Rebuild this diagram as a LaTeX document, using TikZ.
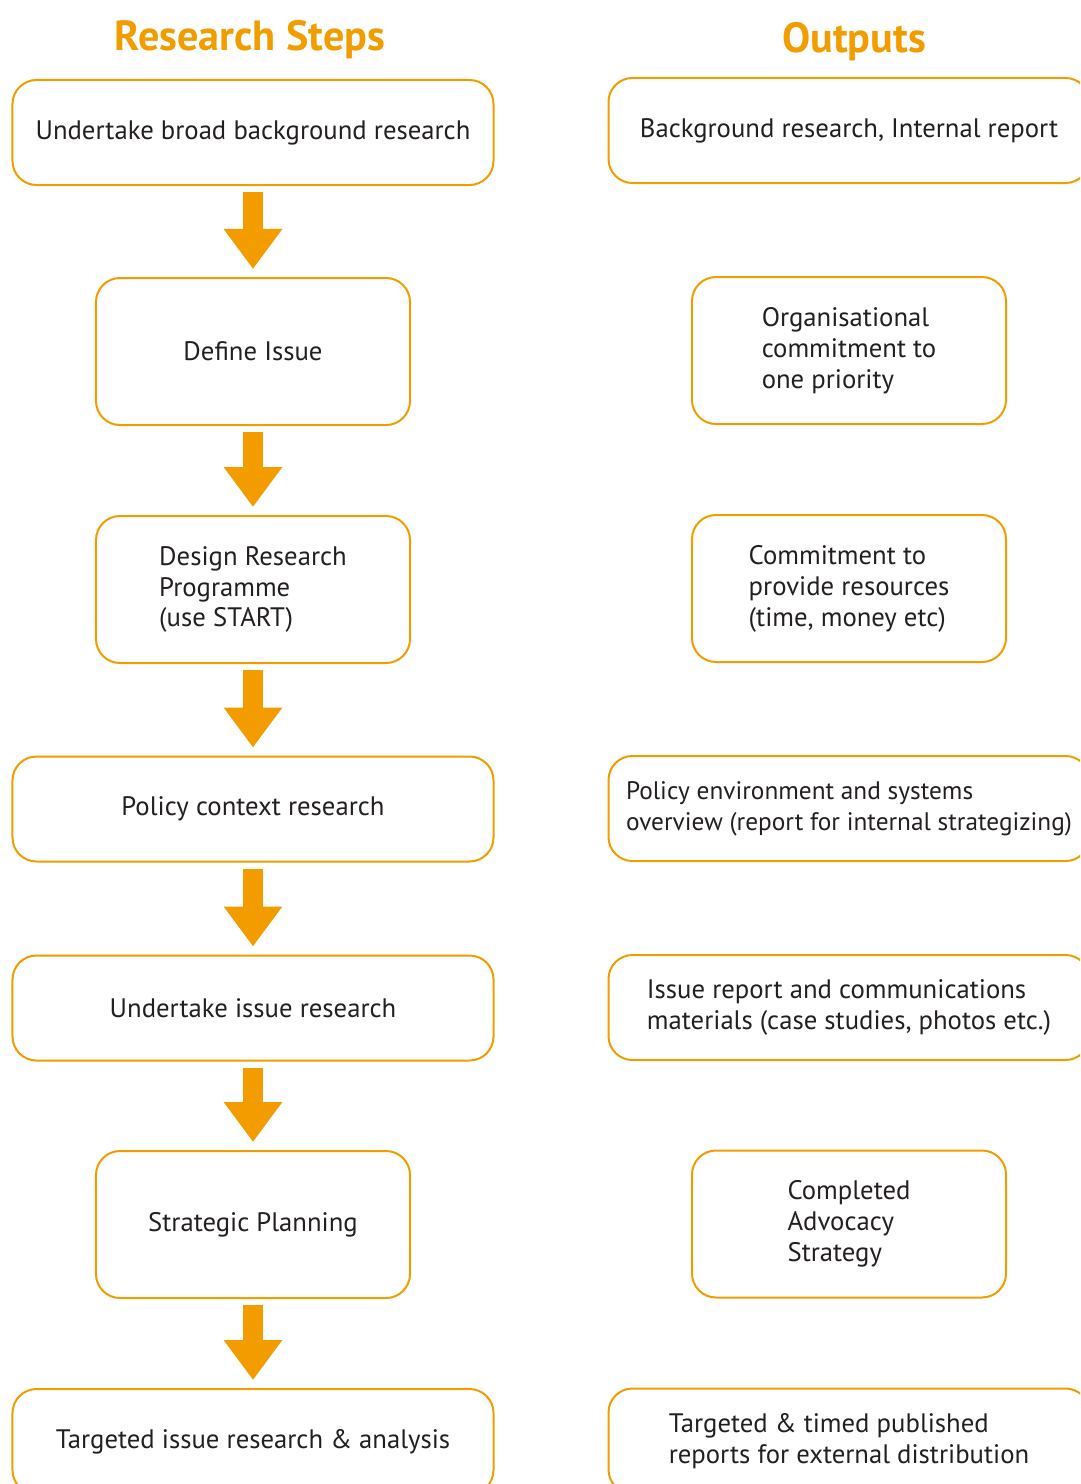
\documentclass[tikz,border=0pt]{standalone}
\usepackage{fontspec}
\setmainfont{PT Sans}
\usetikzlibrary{arrows.meta}
\definecolor{stepor}{HTML}{F39C00}
\definecolor{steptxt}{HTML}{231F20}
\begin{document}
\begin{tikzpicture}[x=0.25mm, y=-0.25mm,
		box/.style={draw=stepor, line width=0.5mm, rounded corners=6mm,
			text=steptxt, align=left, font=\fontsize{19}{22}\selectfont},
		wide/.style={box, minimum width=120.25mm, minimum height=26.25mm},
		narrow/.style={box, minimum width=78.5mm, minimum height=36.75mm},
		head/.style={text=stepor, font=\fontsize{30}{34}\selectfont\bfseries},
		down/.style={stepor, line width=5mm,
			-{Triangle[length=10mm, width=14mm]},
			shorten <=1.5mm, shorten >=2mm}
		]
	\useasboundingbox (0,0) rectangle (1080,1484);
	\clip (0,0) rectangle (1080,1484);
	% headings
	\node [head] (hsteps) at (250,40) {Research Steps};
	\node [head] (hout) at (854,42) {Outputs};
	% research steps
	\node [wide] (s1) at (253,132.5) {Undertake broad background research};
	\node [narrow] (s2) at (253,351.5) {Define Issue};
	\node [narrow] (s3) at (253,589.5) {Design Research\\Programme\\(use START)};
	\node [wide] (s4) at (253,809) {Policy context research};
	\node [wide] (s5) at (253,1008) {Undertake issue research};
	\node [narrow] (s6) at (253,1224.5) {Strategic Planning};
	\node [wide] (s7) at (253,1441.5) {Targeted issue research \& analysis};
	% outputs
	\node [wide] (o1) at (849,130.5) {Background research, Internal report};
	\node [narrow] (o2) at (849,350.5) {Organisational\\commitment to\\one priority};
	\node [narrow] (o3) at (849,588.5) {Commitment to\\provide resources\\(time, money etc)};
	\node [wide, font=\fontsize{18}{22}\selectfont] (o4) at (849,808.5) {Policy environment and systems\\overview (report for internal strategizing)};
	\node [wide] (o5) at (849,1007.5) {Issue report and communications\\materials (case studies, photos etc.)};
	\node [narrow] (o6) at (849,1224) {Completed\\Advocacy\\Strategy};
	\node [wide] (o7) at (849,1441) {Targeted \& timed published\\reports for external distribution};
	% arrows
	\foreach \a/\b in {s1/s2, s2/s3, s3/s4, s4/s5, s5/s6, s6/s7}
		\draw [down] (\a.south) -- (\b.north);
\end{tikzpicture}
\end{document}
